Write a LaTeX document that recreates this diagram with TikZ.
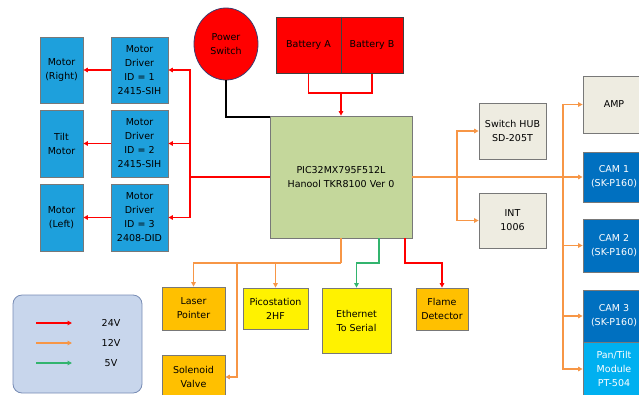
\documentclass[tikz,border=0pt]{standalone}
\usepackage{fontspec}
\setmainfont{DejaVu Sans}
\usetikzlibrary{arrows.meta,shapes.geometric}
\definecolor{motblue}{RGB}{30,160,220}
\definecolor{boxgray}{RGB}{120,120,120}
\definecolor{pwrborder}{RGB}{60,60,110}
\definecolor{mcugreen}{RGB}{196,215,155}
\definecolor{orline}{RGB}{247,150,70}
\definecolor{gold}{RGB}{255,192,0}
\definecolor{beige}{RGB}{238,236,225}
\definecolor{camblue}{RGB}{0,112,192}
\definecolor{ptblue}{RGB}{0,176,240}
\definecolor{grline}{RGB}{50,180,110}
\definecolor{legfill}{RGB}{200,214,236}
\definecolor{legborder}{RGB}{120,140,180}
\begin{document}
\begin{tikzpicture}[x=1pt,y=-1pt,
  every node/.style={font=\fontsize{9.5}{14}\selectfont, align=center, inner sep=1pt},
  box/.style={draw=boxgray, line width=0.8pt, rectangle},
  mot/.style={box, fill=motblue},
  beigebox/.style={box, fill=beige},
  goldbox/.style={box, fill=gold},
  yelbox/.style={box, fill=yellow},
  cambox/.style={box, fill=camblue, text=white},
  red24/.style={draw=red, line width=1.6pt},
  or12/.style={draw=orline, line width=1.2pt},
  gr5/.style={draw=grline, line width=1.2pt},
  tip/.style={-{Triangle[length=4.5pt,width=4.5pt]}}
]
\useasboundingbox (0,0) rectangle (639,394);
% motors and drivers
\node[mot, minimum width=43pt, minimum height=66pt] (motR) at (61.5,70) {Motor\\(Right)};
\node[mot, minimum width=43pt, minimum height=67pt] (motT) at (61.5,143.5) {Tilt\\Motor};
\node[mot, minimum width=43pt, minimum height=67pt] (motL) at (61.5,217.5) {Motor\\(Left)};
\node[mot, minimum width=57pt, minimum height=66pt] (drv1) at (139.5,70) {Motor\\Driver\\ID = 1\\2415-SIH};
\node[mot, minimum width=57pt, minimum height=67pt] (drv2) at (139.5,143.5) {Motor\\Driver\\ID = 2\\2415-SIH};
\node[mot, minimum width=57pt, minimum height=67pt] (drv3) at (139.5,217.5) {Motor\\Driver\\ID = 3\\2408-DID};
% power switch and batteries
\node[ellipse, draw=pwrborder, line width=0.8pt, fill=red, minimum width=64pt, minimum height=72pt, inner sep=0pt] (pwr) at (226,44) {Power\\Switch};
\node[box, draw=black!75, line width=1pt, fill=red, minimum width=65pt, minimum height=56pt] (batA) at (308.5,45) {Battery A};
\node[box, draw=black!75, line width=1pt, fill=red, minimum width=62pt, minimum height=56pt] (batB) at (372,45) {Battery B};
\draw[black!75, line width=1pt] (batA.north east) -- (batA.south east);
% MCU
\node[box, fill=mcugreen, minimum width=142pt, minimum height=122pt] (mcu) at (341,177) {PIC32MX795F512L\\Hanool TKR8100 Ver 0};
% right side
\node[beigebox, minimum width=67pt, minimum height=56pt] (hub) at (512.5,131) {Switch HUB\\SD-205T};
\node[beigebox, minimum width=67pt, minimum height=55pt] (int) at (512.5,220.5) {INT\\1006};
\node[beigebox, minimum width=62pt, minimum height=57pt] (amp) at (614,104.5) {AMP};
\node[cambox, minimum width=62pt, minimum height=50pt] (cam1) at (614,177) {CAM 1\\(SK-P160)};
\node[cambox, minimum width=62pt, minimum height=53pt] (cam2) at (614,245.5) {CAM 2\\(SK-P160)};
\node[cambox, minimum width=62pt, minimum height=52pt] (cam3) at (614,316) {CAM 3\\(SK-P160)};
\node[box, fill=ptblue, text=white, minimum width=62pt, minimum height=54pt] (pt) at (614,369) {Pan/Tilt\\Module\\PT-504};
% bottom
\node[goldbox, minimum width=63pt, minimum height=43pt] (laser) at (193.5,308.5) {Laser\\Pointer};
\node[goldbox, minimum width=63pt, minimum height=44pt] (sol) at (193.5,377) {Solenoid\\Valve};
\node[yelbox, minimum width=65pt, minimum height=41pt] (pico) at (275.5,308.5) {Picostation\\2HF};
\node[yelbox, minimum width=69pt, minimum height=65pt] (eth) at (356.5,320.5) {Ethernet\\To Serial};
\node[goldbox, minimum width=52pt, minimum height=42pt] (flame) at (442,309) {Flame\\Detector};
% legend
\node[draw=legborder, line width=0.8pt, fill=legfill, rounded corners=9pt, minimum width=129pt, minimum height=98pt] (leg) at (77.5,344) {};
\coordinate (l1a) at (36,323); \coordinate (l1b) at (72,323);
\coordinate (l2a) at (36,343); \coordinate (l2b) at (72,343);
\coordinate (l3a) at (36,363); \coordinate (l3b) at (72,363);
\draw[red24, tip] (l1a) -- (l1b);
\draw[or12, tip] (l2a) -- (l2b);
\draw[gr5, tip] (l3a) -- (l3b);
\node (t24) at (111,323) {24V};
\node (t12) at (111,343) {12V};
\node (t5) at (111,363) {5V};
% connectors: power switch
\coordinate (mcuPw) at (270,117);
\draw[black, line width=1.2pt] (pwr.south) |- (mcuPw);
% batteries
\coordinate (bj) at (341,93);
\draw[red, line width=1.2pt] (batA.south) |- (bj) -| (batB.south);
\draw[red, line width=1.2pt, tip] (bj) -- (mcu.north);
% motor bus
\coordinate (bus) at (190,177);
\draw[red24] (mcu.west) -- (bus);
\draw[red24, tip] (bus) |- (drv1.east);
\draw[red24, tip] (bus) |- (drv2.east);
\draw[red24, tip] (bus) |- (drv3.east);
\draw[red24, tip] (drv1.west) -- (motR.east);
\draw[red24, tip] (drv2.west) -- (motT.east);
\draw[red24, tip] (drv3.west) -- (motL.east);
% right orange
\draw[or12, tip] (mcu.east) -- (cam1.west);
\coordinate (ob1) at (457,177);
\draw[or12, tip] (ob1) |- (hub.west);
\draw[or12, tip] (ob1) |- (int.west);
\coordinate (ob2) at (563,177);
\draw[or12, tip] (ob2) |- (amp.west);
\draw[or12, tip] (ob2) |- (cam2.west);
\draw[or12, tip] (ob2) |- (cam3.west);
\draw[or12, tip] (ob2) |- (pt.west);
% bottom orange
\coordinate (oj) at (341,263);
\coordinate (sj) at (237,263);
\coordinate (pj) at (275.5,263);
\draw[or12] (mcu.south) -- (oj);
\draw[or12, tip] (oj) -| (laser.north);
\draw[or12, tip] (pj) -- (pico.north);
\draw[or12, tip] (sj) |- (sol.east);
% green
\coordinate (gS) at (379,238);
\draw[gr5, tip] (gS) -- ++(0,25) -| (eth.north);
% red to flame
\coordinate (rS) at (405,238);
\draw[red, line width=1.2pt, tip] (rS) -- ++(0,25) -| (flame.north);
\end{tikzpicture}
\end{document}
